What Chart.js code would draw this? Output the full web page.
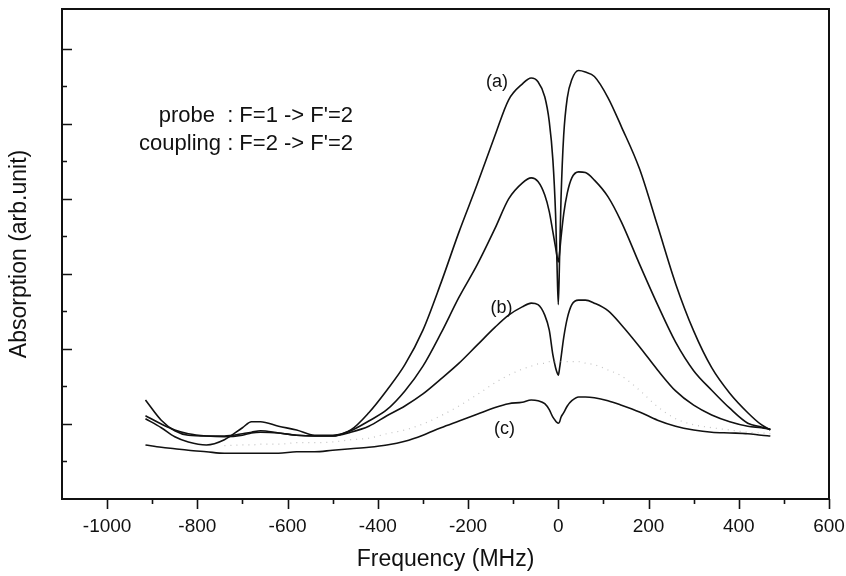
<!DOCTYPE html>
<html>
<head>
<meta charset="utf-8">
<title>Absorption vs frequency</title>
<script src="https://cdn.jsdelivr.net/npm/chart.js@4.4.1/dist/chart.umd.min.js"></script>
<style>
  html, body { margin: 0; padding: 0; background: #fff; }
</style>
</head>
<body>
<canvas id="chart" width="846" height="576"></canvas>
<script>
// detuning grid (MHz), shared by every trace
const freq = [-915, -880, -850, -820, -780, -740, -700, -680, -660, -620, -580, -540, -500, -460,
  -420, -380, -340, -300, -260, -220, -180, -140, -110, -80, -60, -45, -30, -20, -12, -6, -3, 0,
  3, 6, 12, 20, 30, 45, 60, 80, 110, 140, 180, 220, 260, 300, 340, 380, 420, 450, 470];

// absorption traces (arb. unit)
const traceA = [1.07, 0.95, 0.83, 0.76, 0.72, 0.79, 0.95, 1.03, 1.03, 0.97, 0.92, 0.85, 0.85, 0.92,
  1.15, 1.45, 1.79, 2.25, 2.88, 3.56, 4.19, 4.85, 5.32, 5.53, 5.61, 5.56, 5.36, 5.03, 4.52, 3.79, 3.16, 2.59,
  3.25, 3.99, 4.85, 5.35, 5.59, 5.71, 5.69, 5.63, 5.35, 4.96, 4.40, 3.64, 2.87, 2.24, 1.75, 1.41, 1.15, 0.99, 0.92];
const traceMid = [1.32, 1.05, 0.91, 0.85, 0.84, 0.84, 0.87, 0.89, 0.91, 0.88, 0.85, 0.84, 0.84, 0.91,
  1.04, 1.19, 1.44, 1.77, 2.21, 2.69, 3.12, 3.61, 4.00, 4.21, 4.28, 4.23, 4.05, 3.83, 3.56, 3.35, 3.24, 3.16,
  3.29, 3.48, 3.80, 4.08, 4.28, 4.36, 4.35, 4.25, 4.03, 3.69, 3.13, 2.59, 2.09, 1.71, 1.45, 1.21, 1.01, 0.96, 0.93];
const traceB = [1.11, 1.00, 0.92, 0.87, 0.84, 0.83, 0.85, 0.88, 0.89, 0.88, 0.85, 0.84, 0.84, 0.89,
  0.97, 1.11, 1.24, 1.40, 1.60, 1.81, 2.05, 2.29, 2.45, 2.56, 2.61, 2.59, 2.45, 2.25, 1.92, 1.75, 1.69, 1.65,
  1.75, 1.88, 2.15, 2.41, 2.59, 2.65, 2.65, 2.61, 2.51, 2.32, 2.03, 1.72, 1.44, 1.25, 1.12, 1.03, 0.97, 0.95, 0.93];
const traceC = [0.72, 0.69, 0.67, 0.65, 0.63, 0.61, 0.61, 0.61, 0.61, 0.61, 0.63, 0.63, 0.65, 0.67,
  0.69, 0.72, 0.77, 0.85, 0.95, 1.04, 1.13, 1.22, 1.27, 1.29, 1.32, 1.31, 1.27, 1.19, 1.09, 1.04, 1.02, 1.01,
  1.03, 1.09, 1.15, 1.24, 1.31, 1.36, 1.36, 1.35, 1.31, 1.25, 1.16, 1.05, 0.97, 0.92, 0.89, 0.88, 0.87, 0.85, 0.84];
// the faint dotted trace (only starts around -740 MHz)
const traceFaint = [null, null, null, null, null, 0.71, 0.72, 0.72, 0.73, 0.73, 0.75, 0.75, 0.76, 0.79,
  0.81, 0.87, 0.92, 1.00, 1.11, 1.24, 1.39, 1.55, 1.65, 1.73, 1.77, 1.80, 1.81, 1.83, 1.83, 1.83, 1.83, 1.83,
  1.83, 1.83, 1.83, 1.83, 1.83, 1.83, 1.81, 1.79, 1.72, 1.64, 1.45, 1.23, 1.07, 0.99, 0.95, 0.92, 0.89, 0.88, 0.87];

const xTickLabels = [-1000, -800, -600, -400, -200, 0, 200, 400, 600];
const xMinorTicks = [-900, -700, -500, -300, -100, 100, 300, 500];
const yMajorTicks = [1, 2, 3, 4, 5, 6];
const yMinorTicks = [0.5, 1.5, 2.5, 3.5, 4.5, 5.5];

const traceLabels = ["(a)", "(b)", "(c)"];
const noteLines = ["probe  : F=1 -> F'=2", "coupling : F=2 -> F'=2"];

const INK = "#111";

function toPoints(values) {
  const pts = [];
  values.forEach((v, i) => {
    if (v !== null) pts.push({ x: freq[i], y: v });
  });
  return pts;
}

function solid(values) {
  return {
    data: toPoints(values),
    borderColor: INK,
    borderWidth: 1.6,
    pointRadius: 0,
    fill: false,
    cubicInterpolationMode: "monotone"
  };
}

// frame, inward/outward tick marks, notes and curve labels
const decorations = {
  id: "decorations",
  afterDatasetsDraw(chart) {
    const { ctx, chartArea: a, scales: { x, y } } = chart;
    ctx.save();
    ctx.strokeStyle = INK;
    ctx.lineWidth = 2;
    ctx.strokeRect(a.left, a.top, a.right - a.left, a.bottom - a.top);

    ctx.lineWidth = 1.6;
    ctx.beginPath();
    xTickLabels.forEach((v) => {
      const px = Math.round(x.getPixelForValue(v)) + 0.5;
      ctx.moveTo(px, a.bottom);
      ctx.lineTo(px, a.bottom + 10);
    });
    xMinorTicks.forEach((v) => {
      const px = Math.round(x.getPixelForValue(v)) + 0.5;
      ctx.moveTo(px, a.bottom);
      ctx.lineTo(px, a.bottom + 5);
    });
    yMajorTicks.forEach((v) => {
      const py = Math.round(y.getPixelForValue(v)) + 0.5;
      ctx.moveTo(a.left, py);
      ctx.lineTo(a.left + 10, py);
    });
    yMinorTicks.forEach((v) => {
      const py = Math.round(y.getPixelForValue(v)) + 0.5;
      ctx.moveTo(a.left, py);
      ctx.lineTo(a.left + 5, py);
    });
    ctx.stroke();

    ctx.fillStyle = INK;
    ctx.font = '22px "Liberation Sans", Arial, sans-serif';
    ctx.textAlign = "right";
    ctx.textBaseline = "alphabetic";
    ctx.fillText(noteLines[0], 353, 122);
    ctx.fillText(noteLines[1], 353, 150);

    ctx.font = '18px "Liberation Sans", Arial, sans-serif';
    ctx.textAlign = "center";
    ctx.textBaseline = "middle";
    ctx.fillText(traceLabels[0], x.getPixelForValue(-136), y.getPixelForValue(5.56));
    ctx.fillText(traceLabels[1], x.getPixelForValue(-126), y.getPixelForValue(2.55));
    ctx.fillText(traceLabels[2], x.getPixelForValue(-119), y.getPixelForValue(0.93));
    ctx.restore();
  }
};

Chart.defaults.font.family = '"Liberation Sans", Arial, sans-serif';
Chart.defaults.color = INK;

const chart = new Chart(document.getElementById("chart"), {
  type: "line",
  data: {
    datasets: [
      {
        data: toPoints(traceFaint),
        borderColor: "#c4c4c4",
        borderWidth: 1.2,
        borderDash: [1, 5],
        pointRadius: 0,
        fill: false,
        cubicInterpolationMode: "monotone"
      },
      solid(traceC),
      solid(traceB),
      solid(traceMid),
      solid(traceA)
    ]
  },
  options: {
    responsive: false,
    animation: false,
    devicePixelRatio: 1,
    layout: { padding: { top: 9, right: 17, left: 0, bottom: 0 } },
    plugins: {
      legend: { display: false },
      tooltip: { enabled: false }
    },
    scales: {
      x: {
        type: "linear",
        min: -1100,
        max: 600,
        afterBuildTicks: (s) => {
          s.ticks = xTickLabels.map((v) => ({ value: v }));
        },
        afterFit: (s) => {
          s.height = 77;
          // don't let the edge label "600" shrink the plot area
          s.paddingLeft = 0;
          s.paddingRight = 0;
        },
        grid: { display: false, drawTicks: false },
        border: { display: false },
        ticks: {
          autoSkip: false,
          maxRotation: 0,
          padding: 16,
          font: { size: 19 },
          callback: (v) => String(v)
        },
        title: {
          display: true,
          text: "Frequency (MHz)",
          font: { size: 23 },
          padding: { top: 3, bottom: 3 }
        }
      },
      y: {
        min: 0,
        max: 6.53,
        afterFit: (s) => {
          s.width = 62;
        },
        grid: { display: false, drawTicks: false },
        border: { display: false },
        ticks: { display: false },
        title: {
          display: true,
          text: "Absorption (arb.unit)",
          font: { size: 23 },
          padding: { top: 6, bottom: 6 }
        }
      }
    }
  },
  plugins: [decorations]
});
</script>
</body>
</html>
